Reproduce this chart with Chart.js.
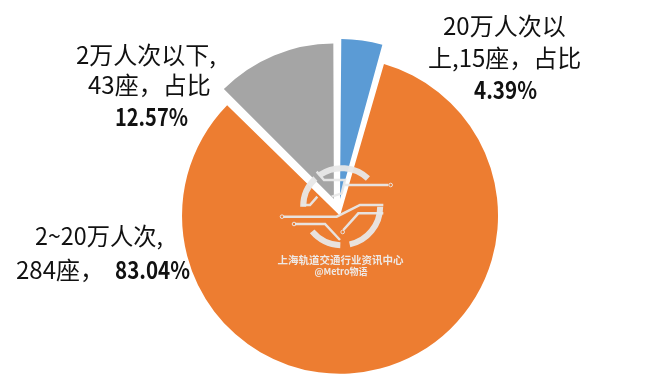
<!DOCTYPE html>
<html><head><meta charset="utf-8">
<style>html,body{margin:0;padding:0;background:#fff}#w{width:669px;height:385px;position:relative}</style>
<script src="https://cdn.jsdelivr.net/npm/chart.js@4"></script>
</head><body><div id="w"><canvas id="c" width="669" height="385"></canvas></div>
<script>
const categories = ['20万人次以上', '2~20万人次', '2万人次以下'];
const shares = [4.39, 83.04, 12.57];
const seats = [15, 284, 43];
const sliceColors = ['#5B9BD5', '#ED7D31', '#A5A5A5'];
const sliceOffsets = [44, 24, 48];
const labelFont = '"Noto Sans CJK SC",sans-serif';
const labelRuns = [
  ['20万人次以',443,124,26,0],
  ['上,15座\uFF0C占比',428,160,58,0],
  ['4.39%',474,63,90,1],
  ['2万人次以下,',76,142,55,0],
  ['43座\uFF0C占比',88,124,85,0],
  ['12.57%',115,73,117,1],
  ['2~20万人次,',35,128,236,0],
  ['284座\uFF0C',16,90,270,0],
  ['83.04%',115,75,270,1]
];
const textPlugin = {id:'labels',afterDraw(chart){
  const ctx=chart.ctx; ctx.save(); ctx.textBaseline='middle'; ctx.textAlign='left'; ctx.fillStyle='#111';
  for(const [t,x,w,y,b] of labelRuns){
    ctx.font=(b?'bold ':'')+'24px '+labelFont;
    ctx.fillText(t,x,y,w);
  }
  ctx.restore();
}};
const logoPlugin = {id:'logo',afterDraw(chart){
  const ctx=chart.ctx; ctx.save();
  const P=(x,y)=>[260+x/3,150+y/3];
  const c=P(245,170), R=38.5;
  ctx.strokeStyle='rgba(232,232,232,0.95)'; ctx.lineWidth=6; ctx.lineCap='butt';
  const arcs=[[-47,-124],[-133,-180],[0,78],[92,140]];
  for(const a of arcs){ctx.beginPath();ctx.arc(c[0],c[1],R,Math.min(a[0],a[1])*Math.PI/180,Math.max(a[0],a[1])*Math.PI/180);ctx.stroke();}
  ctx.lineWidth=2.5;
  const paths=[
    [[170,65],[192,90],[255,90],[245,130],[215,140]],
    [[255,105],[385,105]],
    [[70,200],[230,200],[300,165],[370,165]],
    [[105,222],[195,222],[240,270]],
    [[250,240],[295,190],[370,190]],
    [[125,165],[150,165],[172,140]]
  ];
  for(const p of paths){ctx.beginPath();p.forEach((q,i)=>{const r=P(q[0],q[1]);i?ctx.lineTo(r[0],r[1]):ctx.moveTo(r[0],r[1]);});ctx.stroke();}
  ctx.lineWidth=1;
  for(const q of [[392,105],[66,200],[102,222],[248,246]]){const r=P(q[0],q[1]);ctx.beginPath();ctx.arc(r[0],r[1],1.8,0,Math.PI*2);ctx.stroke();}
  ctx.fillStyle='rgba(238,238,238,0.95)';ctx.textAlign='center';ctx.textBaseline='middle';
  ctx.font='bold 10.5px "Noto Sans CJK SC"';ctx.fillText('上海轨道交通行业资讯中心',340.5,260,126);
  ctx.font='bold 9px "Noto Sans CJK SC"';ctx.fillText('@Metro物语',341,272);
  ctx.restore();
}};
new Chart(document.getElementById('c'),{
  type:'pie',
  data:{labels:categories,datasets:[{data:shares,backgroundColor:sliceColors,offset:sliceOffsets,borderWidth:0,hoverOffset:0}]},
  options:{responsive:false,animation:false,radius:152,
    layout:{padding:{left:8,top:35,right:0,bottom:0}},
    plugins:{legend:{display:false},tooltip:{enabled:false}}},
  plugins:[textPlugin,logoPlugin]
});
</script></body></html>
